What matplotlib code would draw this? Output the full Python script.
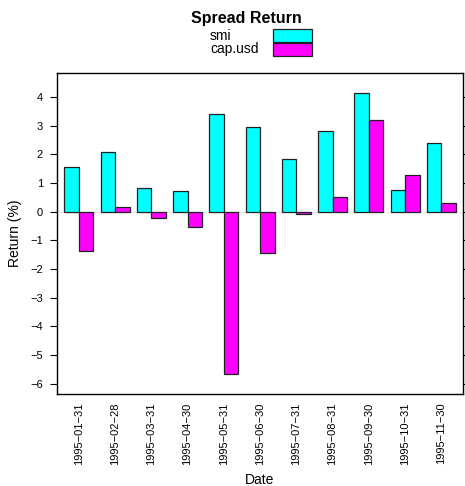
import matplotlib
matplotlib.use("Agg")
import matplotlib.pyplot as plt
from matplotlib.patches import Rectangle
import numpy as np

plt.rcParams["font.family"] = ["Liberation Sans", "DejaVu Sans"]

dates = ["1995-01-31", "1995-02-28", "1995-03-31", "1995-04-30", "1995-05-31",
         "1995-06-30", "1995-07-31", "1995-08-31", "1995-09-30", "1995-10-31",
         "1995-11-30"]
smi = [1.57, 2.09, 0.82, 0.72, 3.41, 2.95, 1.83, 2.81, 4.13, 0.76, 2.39]
cap_usd = [-1.37, 0.17, -0.22, -0.52, -5.67, -1.43, -0.08, 0.51, 3.20, 1.27, 0.29]
series_names = ["smi", "cap.usd"]
colors = ["#00FFFF", "#FF00FF"]
y_ticks = [-6, -5, -4, -3, -2, -1, 0, 1, 2, 3, 4]

fig = plt.figure(figsize=(4.65, 4.86), dpi=100)
ax = fig.add_axes([57 / 465, 1 - 394 / 486, 406 / 465, 321 / 486])

x = np.arange(1, len(dates) + 1)
w = 0.4
ax.axhline(0, color="#e6e6e6", lw=1, zorder=1)
ax.bar(x - w / 2, smi, width=w, color=colors[0], edgecolor="#222222", lw=0.9, zorder=2)
ax.bar(x + w / 2, cap_usd, width=w, color=colors[1], edgecolor="#222222", lw=0.9, zorder=2)

ax.set_xlim(0.4, len(dates) + 0.6)
ax.set_ylim(-6.36, 4.84)
ax.set_yticks(y_ticks)
ax.set_xticks(x)
# the device prints the hyphens as long minus-like dashes
ax.set_xticklabels([d.replace("-", "\u2212") for d in dates], rotation=90, fontsize=8)
ax.tick_params(axis="x", length=0, pad=6)
ax.tick_params(axis="y", labelsize=8, length=5, width=0.8, direction="out", right=True, pad=5)
for s in ax.spines.values():
    s.set_linewidth(1.0)

ax.set_ylabel("Return (%)", fontsize=10, labelpad=6)
ax.set_xlabel("Date", fontsize=10, labelpad=6)

# title and key on top
fig.text(246 / 465, 1 - 19 / 486, "Spread Return", ha="center", va="center",
         fontsize=11.5, fontweight="bold")
rect_top = [29.3, 42.7]
for name, col, top in zip(series_names, colors, rect_top):
    fig.add_artist(Rectangle((273.3 / 465, 1 - (top + 13.0) / 486), 38.4 / 465, 13.0 / 486,
                             transform=fig.transFigure, facecolor=col,
                             edgecolor="#222222", lw=0.9))
    fig.text(210 / 465, 1 - (top + 6.5) / 486, name, ha="left", va="center", fontsize=10)

fig.savefig("out.png", dpi=100)
